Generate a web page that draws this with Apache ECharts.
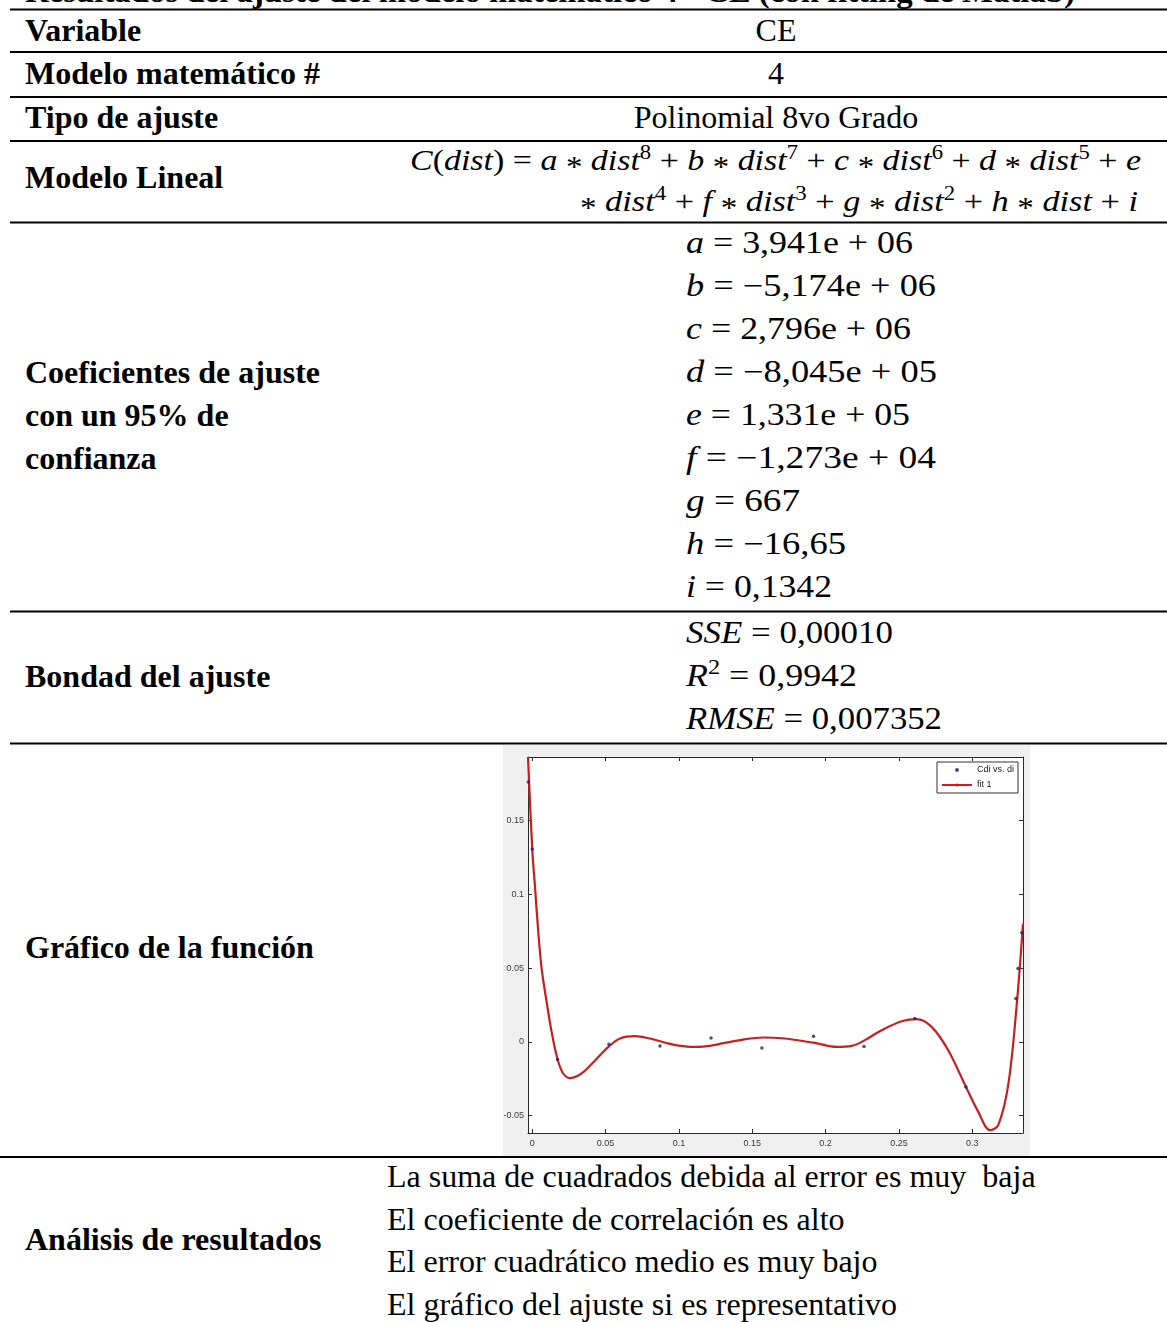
<!DOCTYPE html>
<html><head><meta charset="utf-8">
<script src="https://cdn.jsdelivr.net/npm/echarts@6/dist/echarts.min.js"></script>
<style>
html,body{margin:0;padding:0;background:#fff;width:1167px;height:1322px;overflow:hidden;}
#page{position:absolute;left:0;top:0;}
#chart{position:absolute;left:503px;top:745px;width:527px;height:411px;}
svg text{font-family:"Liberation Serif","Times New Roman",serif;fill:#000;white-space:pre;}
</style></head><body>
<svg id="page" width="1167" height="1322" xmlns="http://www.w3.org/2000/svg"></svg>
<div id="chart"></div>
<script>
// ---- chart data ----
const fitX = [-0.0029, 0.0, 0.0018, 0.0041, 0.0064, 0.0098, 0.0132, 0.0173, 0.0211, 0.0258, 0.0300, 0.0348, 0.0405, 0.0462, 0.0523, 0.0598, 0.0700, 0.0802, 0.0916, 0.1000, 0.1098, 0.1180, 0.1257, 0.1416, 0.1575, 0.1723, 0.1850, 0.1927, 0.2075, 0.2178, 0.2268, 0.2382, 0.2519, 0.2621, 0.2723, 0.2836, 0.2957, 0.3041, 0.3121, 0.3177, 0.3245, 0.3303, 0.3346];
const fitY = [0.1930, 0.1306, 0.1060, 0.0745, 0.0497, 0.0271, 0.0068, -0.0119, -0.0214, -0.0245, -0.0235, -0.0205, -0.0150, -0.0090, -0.0030, 0.0023, 0.0039, 0.0023, -0.0007, -0.0025, -0.0034, -0.0030, -0.0018, 0.0012, 0.0030, 0.0023, 0.0005, -0.0007, -0.0034, -0.0027, 0.0012, 0.0079, 0.0140, 0.0154, 0.0102, -0.0056, -0.0305, -0.0474, -0.0598, -0.0564, -0.0293, 0.0249, 0.0802];
const ptsX = [-0.0027, 0.0, 0.0173, 0.0523, 0.0871, 0.1219, 0.1566, 0.1918, 0.2262, 0.2609, 0.2957, 0.3298, 0.3312, 0.3338];
const ptsY = [0.176, 0.1306, -0.0119, -0.0016, -0.0027, 0.0027, -0.0041, 0.0039, -0.0031, 0.0158, -0.0305, 0.0294, 0.0497, 0.0740];
const xTicks = [0, 0.05, 0.1, 0.15, 0.2, 0.25, 0.3];
const yTicks = [-0.05, 0, 0.05, 0.1, 0.15];
const seriesNames = ['Cdi vs. di', 'fit 1'];

// ---- table texts ----
const titleText = 'Resultados del ajuste del modelo matemático 4 - CE (con fitting de Matlab)';
const leftLabels = ['Variable', 'Modelo matemático #', 'Tipo de ajuste', 'Modelo Lineal', 'Coeficientes de ajuste', 'con un 95% de', 'confianza', 'Bondad del ajuste', 'Gráfico de la función', 'Análisis de resultados'];
const coefNames = ['a', 'b', 'c', 'd', 'e', 'f', 'g', 'h', 'i'];
const coefValues = ['3,941e + 06', '−5,174e + 06', '2,796e + 06', '−8,045e + 05', '1,331e + 05', '−1,273e + 04', '667', '−16,65', '0,1342'];
const analysisLines = ['La suma de cuadrados debida al error es muy  baja', 'El coeficiente de correlación es alto', 'El error cuadrático medio es muy bajo', 'El gráfico del ajuste si es representativo'];

const NS = 'http://www.w3.org/2000/svg';
const svg = document.getElementById('page');
function line(x1, y, x2) {
  const l = document.createElementNS(NS, 'line');
  l.setAttribute('x1', x1); l.setAttribute('x2', x2);
  l.setAttribute('y1', y); l.setAttribute('y2', y);
  l.setAttribute('stroke', '#000'); l.setAttribute('stroke-width', 2);
  svg.appendChild(l);
}
// segs: [text, kind] kind: 'r' roman, 'i' italic, 's' superscript, 'a' math asterisk
function txt(x, y, segs, o) {
  o = o || {};
  const fs = o.fs || 32;
  const t = document.createElementNS(NS, 'text');
  t.setAttribute('x', x); t.setAttribute('y', y);
  t.setAttribute('font-size', fs);
  if (o.bold) t.setAttribute('font-weight', 'bold');
  if (o.anchor) t.setAttribute('text-anchor', o.anchor);
  if (o.len) { t.setAttribute('textLength', o.len); t.setAttribute('lengthAdjust', 'spacingAndGlyphs'); }
  if (typeof segs === 'string') segs = [[segs, 'r']];
  let cur = 0;
  segs.forEach(s => {
    const sp = document.createElementNS(NS, 'tspan');
    sp.textContent = s[0];
    let target = 0;
    if (s[1] === 'i') sp.setAttribute('font-style', 'italic');
    if (s[1] === 's') { sp.setAttribute('font-size', Math.round(fs * 0.68)); target = -Math.round(fs * 0.38); }
    if (s[1] === 'a') { sp.setAttribute('font-size', Math.round(fs * 0.95)); target = Math.round(fs * 0.2); }
    if (target !== cur) { sp.setAttribute('dy', target - cur); cur = target; }
    t.appendChild(sp);
  });
  svg.appendChild(t);
  return t;
}

// horizontal rules
[9.5, 52, 97, 141, 222.5, 611.5, 743.5].forEach(y => line(10, y, 1167));
line(0, 1157, 1167);

// title (cut at top, as in the source page)
txt(25, 2, titleText, {bold: true, len: 1050});
// left column
const leftBase = [41, 84, 128, 188, 383, 426, 469, 687, 958, 1250];
leftLabels.forEach((s, k) => txt(25, leftBase[k], s, {bold: true}));
// right column simple cells
txt(776, 41, 'CE', {anchor: 'middle'});
txt(776, 84, '4', {anchor: 'middle'});
txt(776, 128, 'Polinomial 8vo Grado', {anchor: 'middle'});
// equation
const A = [' ', 'r'], S = ['*', 'a'];
txt(410, 170, [['C', 'i'], ['(', 'r'], ['dist', 'i'], [') = ', 'r'], ['a', 'i'], A, S, A, ['dist', 'i'], ['8', 's'], [' + ', 'r'], ['b', 'i'], A, S, A, ['dist', 'i'], ['7', 's'], [' + ', 'r'], ['c', 'i'], A, S, A, ['dist', 'i'], ['6', 's'], [' + ', 'r'], ['d', 'i'], A, S, A, ['dist', 'i'], ['5', 's'], [' + ', 'r'], ['e', 'i']], {fs: 30, len: 731});
txt(580, 211, [S, A, ['dist', 'i'], ['4', 's'], [' + ', 'r'], ['f', 'i'], A, S, A, ['dist', 'i'], ['3', 's'], [' + ', 'r'], ['g', 'i'], A, S, A, ['dist', 'i'], ['2', 's'], [' + ', 'r'], ['h', 'i'], A, S, A, ['dist', 'i'], [' + ', 'r'], ['i', 'i']], {fs: 30, len: 558});
// coefficients
const coefRight = [913, 936, 911, 937, 910, 936, 800, 846, 832];
coefNames.forEach((n, k) => {
  txt(686, 253 + 43 * k, [[n, 'i'], [' = ' + coefValues[k], 'r']], {fs: 31, len: coefRight[k] - 686});
});
// goodness of fit
txt(686, 643, [['SSE', 'i'], [' = 0,00010', 'r']], {fs: 31, len: 893 - 686});
txt(686, 686, [['R', 'i'], ['2', 's'], [' = 0,9942', 'r']], {fs: 31, len: 857 - 686});
txt(686, 729, [['RMSE', 'i'], [' = 0,007352', 'r']], {fs: 31, len: 942 - 686});
// analysis
const anBase = [1187, 1230, 1272, 1315];
analysisLines.forEach((s, k) => txt(387, anBase[k], s));

// ---- ECharts plot ----
const fitData = fitX.map((x, k) => [x, fitY[k]]);
const ptData = ptsX.map((x, k) => [x, ptsY[k]]);
const chart = echarts.init(document.getElementById('chart'), null, {renderer: 'canvas'});
const axisCol = '#2a2a2a';
const lblStyle = {color: '#3a3a3a', fontSize: 9, fontFamily: 'Liberation Sans, Arial, sans-serif'};
const xMin = -0.0029, xMax = 0.3346, yMin = -0.0617, yMax = 0.193;
function xAx(pos, labels) {
  return {type: 'value', position: pos, min: xMin, max: xMax,
    axisLine: {show: true, onZero: false, lineStyle: {color: axisCol, width: 1}},
    axisTick: {show: true, inside: true, length: 4, customValues: xTicks, lineStyle: {color: axisCol}},
    axisLabel: {show: labels, customValues: xTicks, margin: 6, ...lblStyle, formatter: v => String(+v.toFixed(4))},
    splitLine: {show: false}};
}
function yAx(pos, labels) {
  return {type: 'value', position: pos, min: yMin, max: yMax,
    axisLine: {show: true, onZero: false, lineStyle: {color: axisCol, width: 1}},
    axisTick: {show: true, inside: true, length: 4, customValues: yTicks, lineStyle: {color: axisCol}},
    axisLabel: {show: labels, customValues: yTicks, margin: 4, ...lblStyle, formatter: v => String(+v.toFixed(4))},
    splitLine: {show: false}};
}
chart.setOption({
  backgroundColor: '#f0f0f0',
  animation: false,
  grid: {left: 25, right: 7, top: 12, bottom: 23, show: true, backgroundColor: '#ffffff', borderWidth: 0, containLabel: false, outerBoundsMode: 'none'},
  xAxis: [xAx('bottom', true), xAx('top', false)],
  yAxis: [yAx('left', true), yAx('right', false)],
  legend: {
    orient: 'vertical', right: 12, top: 17,
    backgroundColor: '#ffffff', borderColor: '#333', borderWidth: 1, borderRadius: 0,
    padding: [3, 4, 3, 4], itemWidth: 30, itemHeight: 4, itemGap: 5,
    textStyle: {color: '#222', fontSize: 9, fontFamily: 'Liberation Sans, Arial, sans-serif', lineHeight: 10},
    data: [{name: seriesNames[0], icon: 'circle'}, {name: seriesNames[1]}]
  },
  series: [
    {name: seriesNames[1], type: 'line', data: fitData, smooth: 0.35, showSymbol: false, symbol: 'none',
     lineStyle: {color: '#c81e1e', width: 2.2}, itemStyle: {color: '#c81e1e'}, z: 2, clip: true},
    {name: seriesNames[0], type: 'scatter', data: ptData, symbol: 'circle', symbolSize: 3.5,
     itemStyle: {color: '#1e1e70'}, z: 3, clip: true}
  ]
});
</script>
</body></html>
